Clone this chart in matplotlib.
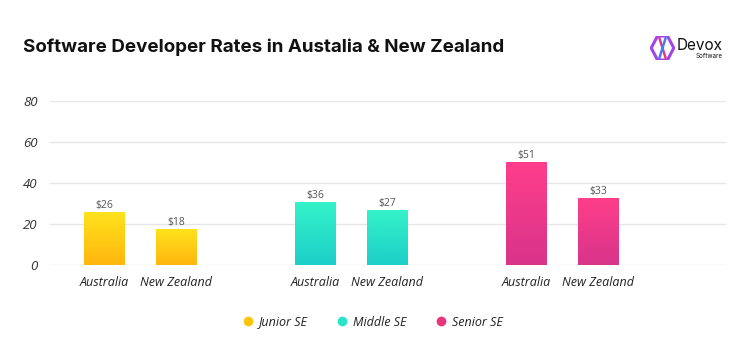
import matplotlib
matplotlib.use("Agg")
import matplotlib.pyplot as plt
import numpy as np
from matplotlib.colors import LinearSegmentedColormap
from matplotlib.lines import Line2D
from matplotlib.patches import Polygon

# ---- data ----
groups = ["Junior SE", "Middle SE", "Senior SE"]
countries = ["Australia", "New Zealand"]
bar_heights = [[25.5, 17.5], [30.3, 26.4], [49.9, 32.3]]
value_labels = [["$26", "$18"], ["$36", "$27"], ["$51", "$33"]]
yticks = [0, 20, 40, 60, 80]
title = "Software Developer Rates in Austalia & New Zealand"

# ---- styles ----
grad_top = ["#FFE21C", "#35F2C9", "#FF3E8A"]
grad_bot = ["#FFB60E", "#1CCFC9", "#D8348A"]
legend_cols = ["#FFC50C", "#2BE3C8", "#E8367E"]

fig = plt.figure(figsize=(7.5, 3.62), dpi=100)
ax = fig.add_axes([50/750, 97/362, 676/750, 164/362])

bar_w = 0.556
group_step = 2.93
first = 0.75

xt, xl = [], []
for g, grp in enumerate(groups):
    cmap = LinearSegmentedColormap.from_list(grp, [grad_bot[g], grad_top[g]])
    for i, c in enumerate(countries):
        xc = first + g * group_step + i
        h = bar_heights[g][i]
        grad = np.linspace(0, 1, 256).reshape(-1, 1)
        ax.imshow(grad, extent=[xc - bar_w/2, xc + bar_w/2, 0, h], origin="lower",
                  cmap=cmap, aspect="auto", zorder=3, interpolation="bicubic")
        ax.text(xc, h + 3.4, value_labels[g][i], ha="center", va="center",
                fontsize=7.5, color="#555555", family="Open Sans", zorder=4)
        xt.append(xc)
        xl.append(c)

ax.set_xlim(0, 9.39)
ax.set_ylim(0, 80)
ax.set_yticks(yticks)
ax.set_yticklabels([str(v) for v in yticks], fontsize=9.5, family="Open Sans",
                   style="italic", color="#333333")
ax.set_xticks(xt)
ax.set_xticklabels(xl, fontsize=9, family="Open Sans", style="italic", color="#222222")
ax.tick_params(axis="both", length=0)
ax.tick_params(axis="y", pad=9)
ax.tick_params(axis="x", pad=8)
ax.grid(axis="y", color="#E6E6E6", linewidth=1, zorder=0)
ax.set_axisbelow(True)
for s in ax.spines.values():
    s.set_visible(False)

# title
fig.text(23/750, 1 - 47/362, title, fontsize=13.5, fontweight="bold", family="Inter",
         color="#111111", va="center", ha="left")

# legend
handles = [Line2D([0], [0], marker="o", linestyle="none", markersize=6,
                  markerfacecolor=legend_cols[k], markeredgecolor=legend_cols[k])
           for k in range(3)]
leg = fig.legend(handles, groups, loc="center", bbox_to_anchor=(373/750, 1 - 322/362),
                 ncol=3, frameon=False, handlelength=0.8, handletextpad=0.5,
                 columnspacing=2.3,
                 prop={"family": "Open Sans", "style": "italic", "size": 9})
for t in leg.get_texts():
    t.set_color("#222222")

# logo
lax = fig.add_axes([650/750, 1 - 60/362, 25/750, 24/362])
lax.set_xlim(0, 1); lax.set_ylim(0, 1); lax.axis("off")
hexpts = np.array([[0.3, 1.0], [0.7, 1.0], [0.95, 0.5], [0.7, 0.0], [0.3, 0.0], [0.05, 0.5]])
lax.add_patch(Polygon(hexpts, closed=True, fill=False, edgecolor="#A046E8", linewidth=2.2))
lax.plot([0.38, 0.62], [0.9, 0.1], color="#E8368E", lw=1.8)
lax.plot([0.62, 0.38], [0.9, 0.1], color="#4A7BF0", lw=1.8)
fig.text(677/750, 1 - 45/362, "Devox", fontsize=11, family="Inter", color="#111111",
         va="center", ha="left")
fig.text(723/750, 1 - 56/362, "Software", fontsize=4.5, family="Inter", color="#111111",
         va="center", ha="right")

fig.savefig("out.png", dpi=100)
